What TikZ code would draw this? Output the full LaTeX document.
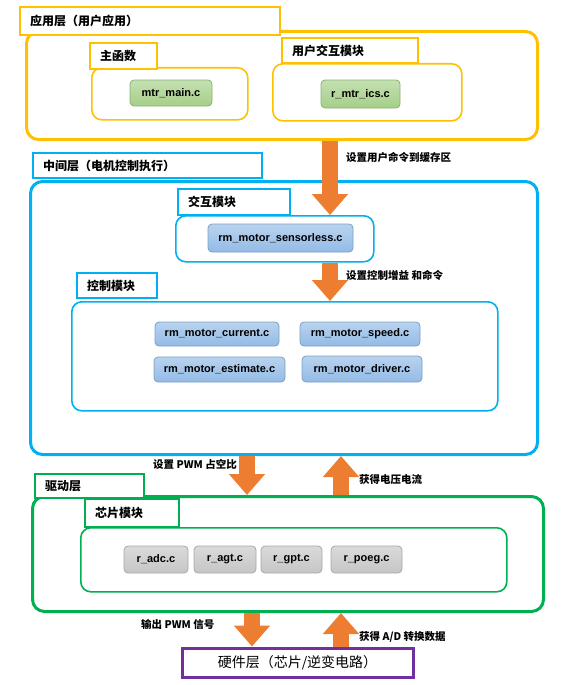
\documentclass[tikz,border=0pt]{standalone}
\usepackage{fontspec}
\setmainfont{Liberation Sans}
\newfontfamily\cjk{Noto Sans CJK SC}
\usetikzlibrary{arrows.meta}

\definecolor{appcol}{HTML}{FFC000}
\definecolor{midcol}{HTML}{00B0F0}
\definecolor{drvcol}{HTML}{00B050}
\definecolor{hwcol}{HTML}{7030A0}
\definecolor{arrcol}{HTML}{ED7D31}
\definecolor{greenfill}{HTML}{A5CF88}
\definecolor{bluefill}{HTML}{93BBE6}
\definecolor{grayfill}{HTML}{C6C6C6}

\tikzset{
  layer/.style={draw=#1, line width=3pt, rounded corners=12pt, inner sep=0pt, anchor=north west},
  inbox/.style={draw=#1, line width=1.6pt, rounded corners=10pt, inner sep=0pt, anchor=north west},
  tag/.style={draw=#1, fill=white, line width=2.4pt, inner xsep=10pt, inner ysep=0pt,
    align=left, anchor=north west, font=\cjk\bfseries\fontsize{12}{13}\selectfont},
  src/.style={draw=#1!85!black, rounded corners=4pt, line width=0.8pt, inner sep=0pt,
    minimum height=26pt, top color=#1!65, bottom color=#1, font=\bfseries\fontsize{11}{13}\selectfont},
  note/.style={inner sep=0pt, font=\cjk\bfseries\fontsize{10.5}{12}\selectfont},
  bigarrow/.style={draw=arrcol, line width=16pt, -{Triangle[width=35pt,length=21pt]}}
}

\begin{document}
\begin{tikzpicture}[x=1pt,y=-1pt]
    \useasboundingbox (0,0) rectangle (584,685);

    % application layer
    \node[layer=appcol, minimum width=511pt, minimum height=108pt] (appO) at (25,30) {};
    \node[tag=appcol, text width=240pt, minimum height=28pt] (appT) at (19,6) {应用层（用户应用）};
    \node[inbox=appcol, minimum width=156pt, minimum height=52pt] (mainI) at (91,67) {};
    \node[tag=appcol, line width=2pt, text width=47pt, minimum height=26pt] (mainT) at (89,42) {主函数};
    \node[src=greenfill, minimum width=82pt] (mainF) at (171,93) {mtr\_main.c};
    \node[inbox=appcol, minimum width=189pt, minimum height=57pt] (icsI) at (272,63) {};
    \node[tag=appcol, line width=2pt, text width=116pt, minimum height=25pt] (icsT) at (281,37) {用户交互模块};
    \node[src=greenfill, minimum width=79pt, minimum height=28pt] (icsF) at (360.5,94) {r\_mtr\_ics.c};

    % middle layer
    \node[layer=midcol, minimum width=507pt, minimum height=273pt] (midO) at (29,180) {};
    \node[tag=midcol, text width=209pt, minimum height=25pt] (midT) at (32,152) {中间层（电机控制执行）};
    \node[inbox=midcol, minimum width=198pt, minimum height=46pt] (intI) at (175,215) {};
    \node[tag=midcol, line width=2pt, text width=92pt, minimum height=26pt] (intT) at (177,188) {交互模块};
    \node[src=bluefill, minimum width=145pt, minimum height=28pt] (sensF) at (280.5,238) {rm\_motor\_sensorless.c};
    \node[inbox=midcol, minimum width=426pt, minimum height=109pt] (ctlI) at (71,301) {};
    \node[tag=midcol, line width=2pt, text width=60pt, minimum height=25pt] (ctlT) at (76,272) {控制模块};
    \node[src=bluefill, minimum width=124pt, minimum height=24pt] (curF) at (217,334) {rm\_motor\_current.c};
    \node[src=bluefill, minimum width=120pt, minimum height=24pt] (spdF) at (360,334) {rm\_motor\_speed.c};
    \node[src=bluefill, minimum width=131pt, minimum height=25pt] (estF) at (219.5,369.5) {rm\_motor\_estimate.c};
    \node[src=bluefill, minimum width=120pt, minimum height=26pt] (drvF) at (362,369) {rm\_motor\_driver.c};

    % driver layer
    \node[layer=drvcol, minimum width=511pt, minimum height=115pt] (drvO) at (31,495) {};
    \node[tag=drvcol, text width=89pt, minimum height=24pt] (drvT) at (34,473) {驱动层};
    \node[inbox=drvcol, minimum width=426pt, minimum height=64pt] (chipI) at (80,527) {};
    \node[tag=drvcol, line width=2pt, text width=74pt, minimum height=28pt] (chipT) at (84,498) {芯片模块};
    \node[src=grayfill, minimum width=64pt, minimum height=27pt] (adcF) at (156,559.5) {r\_adc.c};
    \node[src=grayfill, minimum width=62pt, minimum height=27pt] (agtF) at (225,559.5) {r\_agt.c};
    \node[src=grayfill, minimum width=61pt, minimum height=27pt] (gptF) at (291.5,559.5) {r\_gpt.c};
    \node[src=grayfill, minimum width=71pt, minimum height=27pt] (poegF) at (366.5,559.5) {r\_poeg.c};

    % hardware layer
    \node[draw=hwcol, line width=3pt, minimum width=231pt, minimum height=29pt, inner sep=0pt,
      font=\cjk\fontsize{14}{16}\selectfont] (hw) at (297.5,662.5) {硬件层（芯片/逆变电路）};

    % arrows
    \coordinate (xa) at (330,0);
    \coordinate (xb) at (247,0);
    \coordinate (xc) at (341,0);
    \coordinate (xd) at (252,0);
    \draw[bigarrow] (appO.south -| xa) -- (intI.north -| xa);
    \draw[bigarrow] (intI.south -| xa) -- (ctlI.north -| xa);
    \draw[bigarrow] (midO.south -| xb) -- (drvO.north -| xb);
    \draw[bigarrow] (drvO.north -| xc) -- (midO.south -| xc);
    \draw[bigarrow] (drvO.south -| xd) -- (hw.north -| xd);
    \draw[bigarrow] (hw.north -| xc) -- (drvO.south -| xc);

    \node[note, anchor=west] (n1) at (346,157) {设置用户命令到缓存区};
    \node[note, anchor=west] (n2) at (346,275) {设置控制增益 和命令};
    \node[note, anchor=west] (n3) at (153,464) {设置 PWM 占空比};
    \node[note, anchor=west] (n4) at (359,480) {获得电压电流};
    \node[note, anchor=west] (n5) at (141,624) {输出 PWM 信号};
    \node[note, anchor=west] (n6) at (359,637) {获得 A/D 转换数据};
\end{tikzpicture}
\end{document}
